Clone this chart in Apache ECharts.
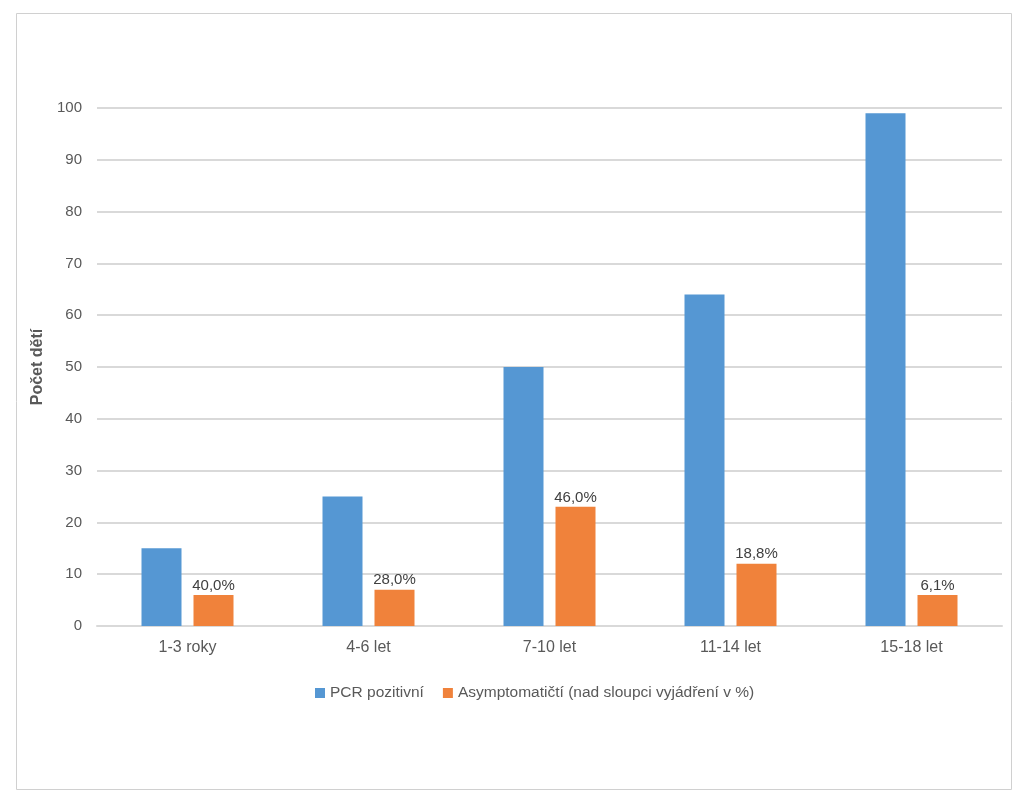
<!DOCTYPE html>
<html>
<head>
<meta charset="utf-8">
<script src="https://cdn.jsdelivr.net/npm/echarts@6/dist/echarts.min.js"></script>
<style>
  html, body { margin: 0; padding: 0; background: #fff; }
  #chart { width: 1036px; height: 800px; }
</style>
</head>
<body>
<div id="chart"></div>
<script>
// data
var categories = ['1-3 roky', '4-6 let', '7-10 let', '11-14 let', '15-18 let'];
var pcrPositive = [15, 25, 50, 64, 99];
var asymptomatic = [6, 7, 23, 12, 6];
var asymPercent = ['40,0%', '28,0%', '46,0%', '18,8%', '6,1%'];
var seriesNames = ['PCR pozitivní', 'Asymptomatičtí (nad sloupci vyjádření v %)'];

var font = '"Liberation Sans", Arial, sans-serif';

var myChart = echarts.init(document.getElementById('chart'));
myChart.setOption({
  backgroundColor: '#ffffff',
  textStyle: { fontFamily: font },
  // rámeček okolo grafu
  graphic: [{
    type: 'rect',
    shape: { x: 16.5, y: 13.5, width: 995, height: 776 },
    style: { fill: 'none', stroke: '#d0d0d0', lineWidth: 1 },
    silent: true
  }],
  legend: {
    data: seriesNames,
    top: 680,
    left: 310,
    icon: 'rect',
    itemWidth: 10,
    itemHeight: 10,
    itemGap: 19,
    textStyle: { color: '#595959', fontSize: 15.5, fontFamily: font }
  },
  grid: {
    left: 97,
    right: 34,
    top: 108,
    bottom: 174
  },
  xAxis: {
    type: 'category',
    data: categories,
    axisLine: { lineStyle: { color: '#d9d9d9', width: 2 } },
    axisTick: { show: false },
    axisLabel: { color: '#595959', fontSize: 16, margin: 14, fontFamily: font }
  },
  yAxis: {
    type: 'value',
    min: 0,
    max: 100,
    interval: 10,
    name: 'Počet dětí',
    nameLocation: 'middle',
    nameGap: 47,
    nameTextStyle: { color: '#595959', fontSize: 16, fontWeight: 'bold', fontFamily: font },
    axisLine: { show: false },
    axisTick: { show: false },
    axisLabel: { color: '#595959', fontSize: 15, margin: 15, fontFamily: font },
    splitLine: { lineStyle: { color: '#d9d9d9', width: 2 } }
  },
  series: [{
      name: seriesNames[0],
      type: 'bar',
      data: pcrPositive,
      barWidth: 40,
      barGap: '30%',
      itemStyle: { color: '#5597d3' }
    },
    {
      name: seriesNames[1],
      type: 'bar',
      data: asymptomatic,
      barWidth: 40,
      itemStyle: { color: '#f0823b' },
      label: {
        show: true,
        position: 'top',
        distance: 2,
        color: '#404040',
        fontSize: 15,
        fontFamily: font,
        formatter: function(p) { return asymPercent[p.dataIndex]; }
      }
    }
  ]
});
</script>
</body>
</html>
